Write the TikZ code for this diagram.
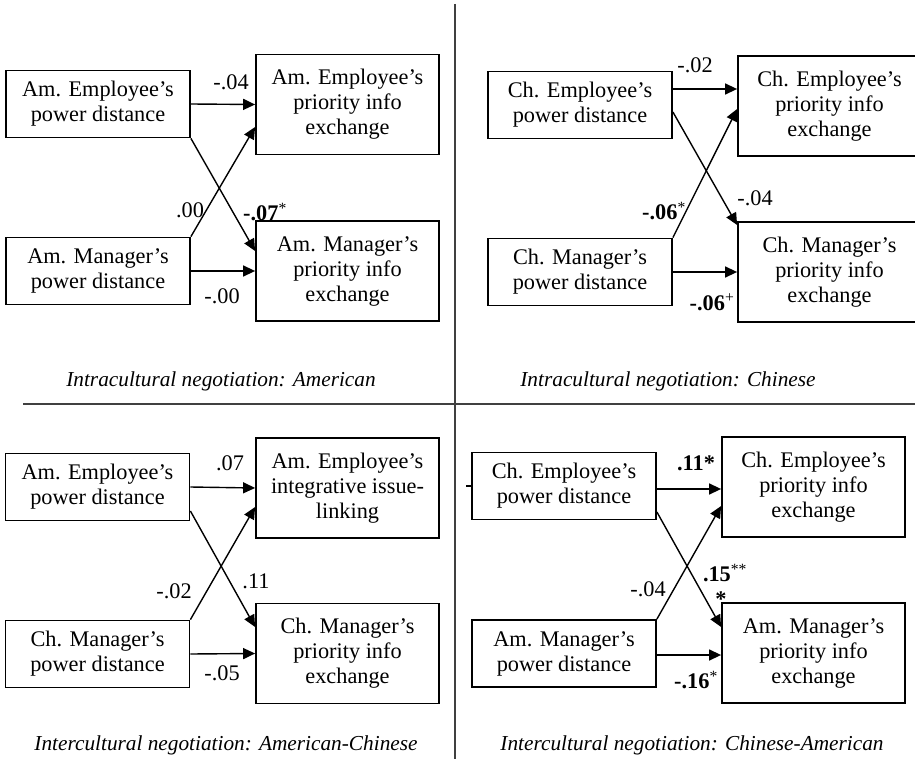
\documentclass[tikz,border=0pt]{standalone}
\usepackage{fontspec}
\setmainfont{Liberation Serif}
\usetikzlibrary{arrows.meta,calc}
\begin{document}
\begin{tikzpicture}[x=1pt,y=-1pt,
  every node/.style={font=\fontsize{22.3}{25}\selectfont},
  box/.style={draw, line width=1.8pt, inner sep=0pt, align=center},
  srcbox/.style={box, minimum width=184pt, minimum height=67pt},
  tgtbox/.style={box, minimum width=183pt, minimum height=100pt},
  arr/.style={line width=1.4pt, -{Triangle[length=12pt,width=11pt]}},
  plainline/.style={line width=1.4pt},
  lbl/.style={inner sep=0pt},
  captext/.style={font=\fontsize{21.3}{25}\selectfont\itshape, anchor=base, inner sep=0pt},
  divider/.style={line width=1.3pt, black!75}]
\useasboundingbox (0,0) rectangle (915,759);

% dividers
\coordinate (vtop) at (455,4);
\coordinate (vbot) at (455,759);
\coordinate (hl) at (23,404);
\coordinate (hr) at (915,404);
\draw[divider] (vtop) -- (vbot);
\draw[divider] (hl) -- (hr);

% ---------- Top-left ----------
\node[srcbox] (a1) at (98,104) {Am. Employee’s\\power distance};
\node[srcbox] (a2) at (98,271) {Am. Manager’s\\power distance};
\node[tgtbox] (b1) at (347.5,104.5) {Am. Employee’s\\priority info\\exchange};
\node[tgtbox] (b2) at (347.5,271) {Am. Manager’s\\priority info\\exchange};
\draw[arr] (a1.east) -- (b1.west);
\draw[arr] (a2.east) -- (b2.west);
\draw[arr] (a1.south east) -- ($(b2.west)+(0,-20)$);
\draw[arr] (a2.north east) -- ($(b1.west)+(0,22.5)$);
\node[lbl] (l1) at (231,82) {-.04};
\node[lbl] (l2) at (190,210) {.00};
\node[lbl] (l3) at (265,212) {\textbf{-.07}\textsuperscript{*}};
\node[lbl] (l4) at (222,296) {-.00};
\node[captext] (c1) at (221,386) {Intracultural negotiation: American};

% ---------- Top-right ----------
\node[srcbox] (c1b) at (580,105) {Ch. Employee’s\\power distance};
\node[srcbox] (c2b) at (580,272) {Ch. Manager’s\\power distance};
\node[tgtbox] (d1) at (829.5,106) {Ch. Employee’s\\priority info\\exchange};
\node[tgtbox] (d2) at (829.5,272) {Ch. Manager’s\\priority info\\exchange};
\draw[arr] ($(c1b.east)+(0,-16)$) -- ($(d1.west)+(0,-17)$);
\draw[arr] (c2b.east) -- (d2.west);
\draw[arr] ($(c1b.east)+(0,7)$) -- ($(d2.west)+(0,-47)$);
\draw[arr] (c2b.north east) -- ($(d1.west)+(0,3)$);
\node[lbl] (m1) at (695,65) {-.02};
\node[lbl] (m2) at (755,198) {-.04};
\node[lbl] (m3) at (664,211) {\textbf{-.06}\textsuperscript{*}};
\node[lbl] (m4) at (712,302) {\textbf{-.06}\textsuperscript{+}};
\node[captext] (c2) at (668,386) {Intracultural negotiation: Chinese};

% ---------- Bottom-left ----------
\node[srcbox] (e1) at (97.5,487) {Am. Employee’s\\power distance};
\node[srcbox] (e2) at (97.5,654) {Ch. Manager’s\\power distance};
\node[tgtbox] (f1) at (347.5,488) {Am. Employee’s\\integrative issue-\\linking};
\node[tgtbox] (f2) at (347.5,653.5) {Ch. Manager’s\\priority info\\exchange};
\draw[arr] (e1.east) -- (f1.west);
\draw[arr] (e2.east) -- (f2.west);
\draw[arr] ($(e1.east)+(0,24)$) -- ($(f2.west)+(0,-26.5)$);
\draw[arr] (e2.north east) -- ($(f1.west)+(0,19)$);
\node[lbl] (n1) at (230,463) {.07};
\node[lbl] (n2) at (174,591) {-.02};
\node[lbl] (n3) at (256,581) {.11};
\node[lbl] (n4) at (222,673) {-.05};
\node[captext] (c3) at (226,750) {Intercultural negotiation: American-Chinese};

% ---------- Bottom-right ----------
\node[srcbox] (g1) at (564,486) {Ch. Employee’s\\power distance};
\node[srcbox] (g2) at (564,653.5) {Am. Manager’s\\power distance};
\node[tgtbox] (h1) at (813.5,487) {Ch. Employee’s\\priority info\\exchange};
\node[tgtbox] (h2) at (813.5,653) {Am. Manager’s\\priority info\\exchange};
\coordinate (tick) at (466,486);
\draw[plainline] (tick) -- (g1.west);
\draw[arr] ($(g1.east)+(0,3)$) -- ($(h1.west)+(0,2)$);
\draw[arr] ($(g2.east)+(0,1.5)$) -- ($(h2.west)+(0,2)$);
\draw[arr] ($(g1.east)+(0,26)$) -- ($(h2.west)+(0,-26)$);
\draw[arr] (g2.north east) -- ($(h1.west)+(0,19)$);
\node[lbl] (p1) at (696,463) {\textbf{.11*}};
\node[lbl] (p2) at (725,573) {\textbf{.15}\textsuperscript{**}};
\node[lbl] (p3) at (721,599) {\textbf{*}};
\node[lbl] (p4) at (648,589) {-.04};
\node[lbl] (p5) at (696,680) {\textbf{-.16}\textsuperscript{*}};
\node[captext] (c4) at (692,750) {Intercultural negotiation: Chinese-American};
\end{tikzpicture}
\end{document}
